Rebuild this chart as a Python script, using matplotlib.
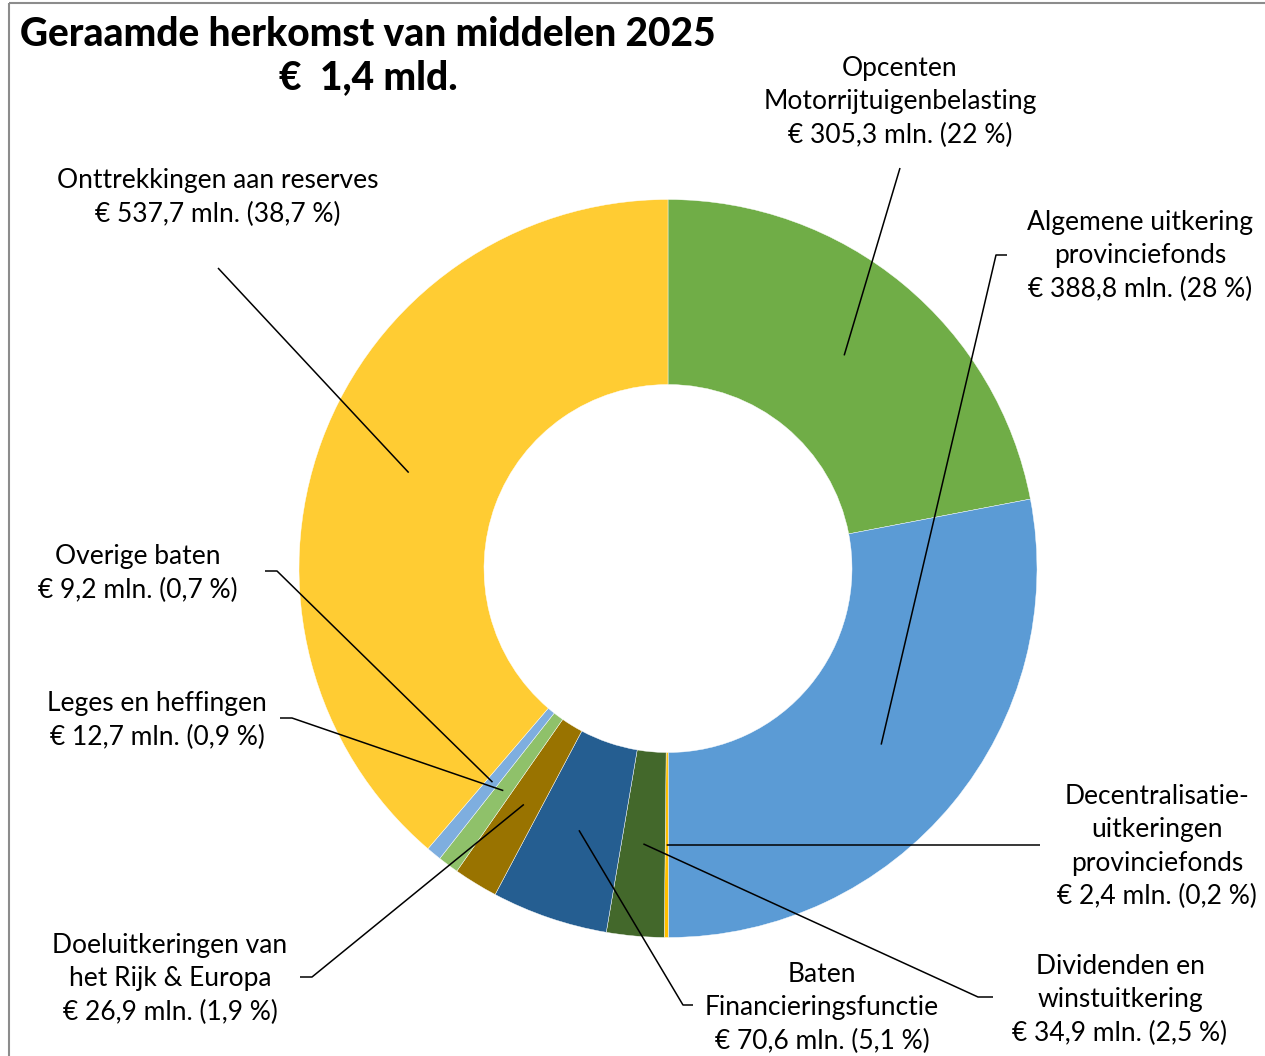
import numpy as np
import matplotlib
matplotlib.use("Agg")
import matplotlib.pyplot as plt
from matplotlib.patches import Rectangle

W, H = 1265, 1056

labels = [
    "Opcenten\nMotorrijtuigenbelasting",
    "Algemene uitkering\nprovinciefonds",
    "Decentralisatie-\nuitkeringen\nprovinciefonds",
    "Dividenden en\nwinstuitkering",
    "Baten\nFinancieringsfunctie",
    "Doeluitkeringen van\nhet Rijk & Europa",
    "Leges en heffingen",
    "Overige baten",
    "Onttrekkingen aan reserves",
]
amounts = [305.3, 388.8, 2.4, 34.9, 70.6, 26.9, 12.7, 9.2, 537.7]
amount_txt = ["305,3", "388,8", "2,4", "34,9", "70,6", "26,9", "12,7", "9,2", "537,7"]
pct_txt = ["22", "28", "0,2", "2,5", "5,1", "1,9", "0,9", "0,7", "38,7"]
colors = ["#70AD47", "#5B9BD5", "#FFC000", "#43682B", "#255E91",
          "#997300", "#8FC16A", "#7EAEDF", "#FFCC33"]

# label centre (x, y of first line) and leader points from label towards slice, in pixels
label_pos = [(900, 68), (1140, 222), (1157, 796), (1120, 966), (822, 974),
             (170, 945), (157, 703), (138, 556), (218, 180)]
leaders = [
    [(900, 168)],
    [(1007, 255), (996, 255)],
    [(1040, 845)],
    [(993, 997), (978, 997)],
    [(693, 1005), (683, 1005)],
    [(300, 977), (312, 977)],
    [(280, 718), (292, 718)],
    [(265, 571), (277, 571)],
    [(218, 268)],
]

cx, cy = 668, 568.5
r_out, r_in = 369, 184

fig = plt.figure(figsize=(W / 100, H / 100), dpi=100)
ax = fig.add_axes([0, 0, 1, 1])

# y axis is inverted (pixel coords), so start at -90 and go "counterclock" to get clockwise from top
wedges, _ = ax.pie(amounts, colors=colors, startangle=-90, counterclock=True,
                   radius=r_out, center=(cx, cy),
                   wedgeprops=dict(width=r_out - r_in, edgecolor="white", linewidth=0.3))

ax.set_xlim(0, W)
ax.set_ylim(H, 0)
ax.set_aspect("equal")
ax.axis("off")

font = "Lato"
r_mid = (r_out + r_in) / 2
for i, w in enumerate(wedges):
    th = np.deg2rad((w.theta1 + w.theta2) / 2)
    px = cx + r_mid * np.cos(th)
    py = cy + r_mid * np.sin(th)
    pts = leaders[i] + [(px, py)]
    xs, ys = zip(*pts)
    ax.plot(xs, ys, color="black", lw=1.1, solid_capstyle="butt")
    txt = f"{labels[i]}\n€ {amount_txt[i]} mln. ({pct_txt[i]} %)"
    lx, ly = label_pos[i]
    ax.text(lx, ly - 12, txt, ha="center", va="top", fontsize=19, family=font,
            linespacing=1.42, color="black")

ax.text(368, 35, "Geraamde herkomst van middelen 2025", ha="center", va="center",
        fontsize=28, fontweight="black", family=font)
ax.text(368, 78, "€  1,4 mld.", ha="center", va="center",
        fontsize=28, fontweight="black", family=font)

ax.add_patch(Rectangle((8.5, 2.5), W + 50, H + 50, fill=False,
                       edgecolor="#8c8c8c", lw=1.5, clip_on=False))

fig.savefig("out.png", dpi=100)
